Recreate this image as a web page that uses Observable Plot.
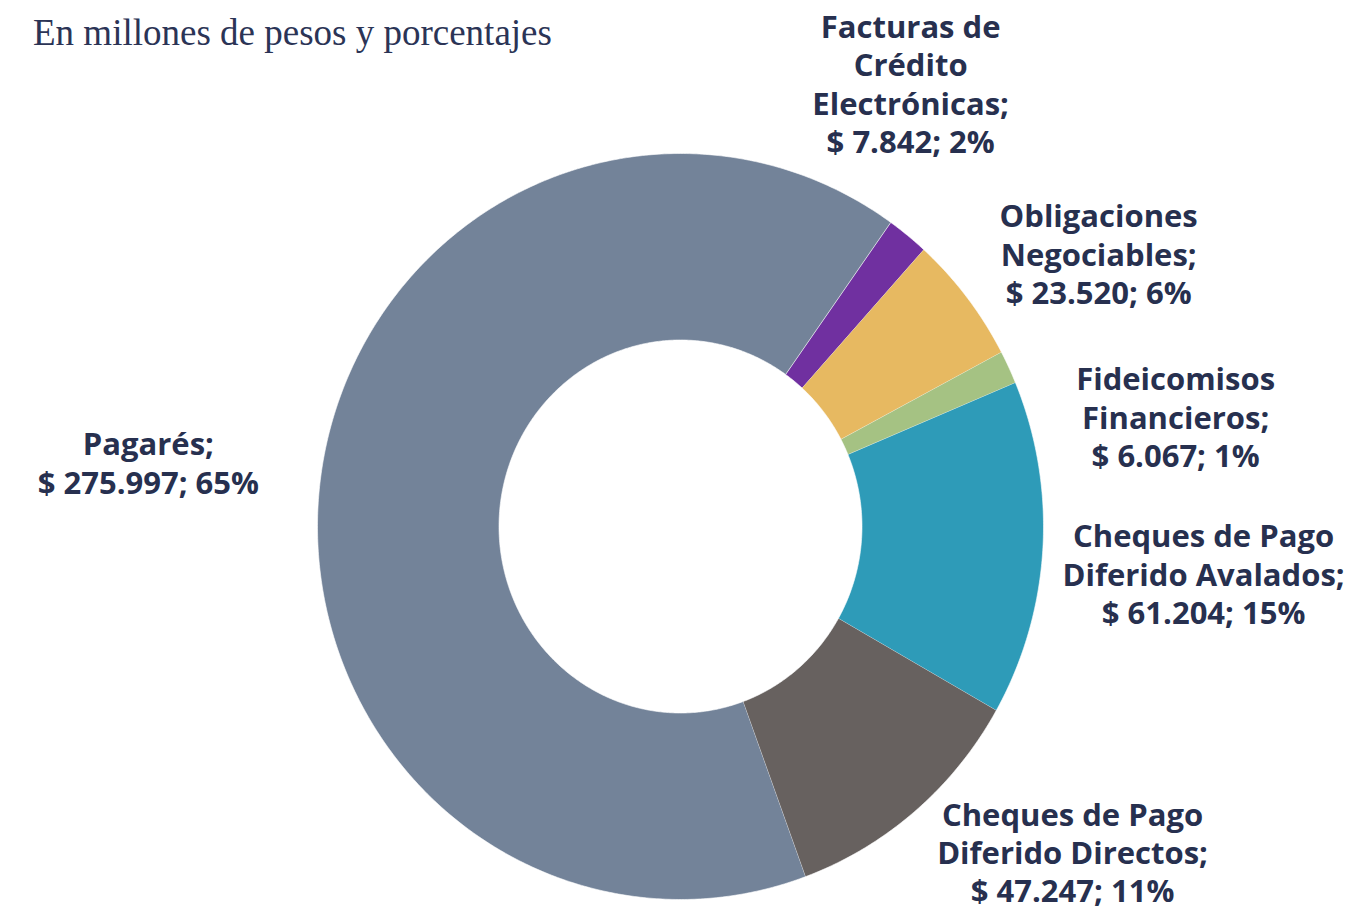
<!DOCTYPE html>
<html>
<head>
<meta charset="utf-8">
<script src="https://cdn.jsdelivr.net/npm/d3@7"></script>
<script src="https://cdn.jsdelivr.net/npm/@observablehq/plot@0.6"></script>
<style>
  html, body { margin: 0; padding: 0; background: #fff; }
  #wrap { position: relative; width: 1356px; height: 913px; }
  #subtitle {
    position: absolute; left: 33px; top: 14px;
    font-family: "Liberation Serif", serif; font-size: 37px; line-height: 37px;
    color: #2b3456; white-space: nowrap;
  }
  #chart { position: absolute; left: 0; top: 0; }
</style>
</head>
<body>
<div id="wrap">
  <div id="chart"></div>
  <div id="subtitle">En millones de pesos y porcentajes</div>
</div>
<script>
// ---- data (clockwise order) ----
const categories = [
  "Facturas de\nCrédito\nElectrónicas",
  "Obligaciones\nNegociables",
  "Fideicomisos\nFinancieros",
  "Cheques de Pago\nDiferido Avalados",
  "Cheques de Pago\nDiferido Directos",
  "Pagarés"
];
const values = [7842, 23520, 6067, 61204, 47247, 275997];
const colors = ["#7030a0", "#e7b961", "#a5c283", "#2e9bb8", "#67615f", "#738399"];

// label anchors (in chart units: outer radius = 1)
const labelX = [0.634, 1.152, 1.364, 1.441, 1.080, -1.466];
const labelY = [1.189, 0.732, 0.295, -0.126, -0.872, 0.172];

// ---- layout constants ----
const startDeg = 35.4;   // first slice starts here (clockwise from 12 o'clock)
const innerR = 0.5;
const outerR = 1;

const total = d3.sum(values);
const locale = d3.formatLocale({decimal: ",", thousands: ".", grouping: [3], currency: ["$", ""]});
const fmt = locale.format(",d");

// build slice polygons
const poly = [];
let acc = 0;
categories.forEach((c, i) => {
  const a0 = startDeg + acc / total * 360;
  acc += values[i];
  const a1 = startDeg + acc / total * 360;
  const n = Math.max(4, Math.ceil((a1 - a0) / 0.5));
  const rad = d => d * Math.PI / 180;
  for (let k = 0; k <= n; k++) {
    const a = rad(a0 + (a1 - a0) * k / n);
    poly.push({cat: c, x: outerR * Math.sin(a), y: outerR * Math.cos(a)});
  }
  for (let k = n; k >= 0; k--) {
    const a = rad(a0 + (a1 - a0) * k / n);
    poly.push({cat: c, x: innerR * Math.sin(a), y: innerR * Math.cos(a)});
  }
});

const labels = categories.map((c, i) => ({
  cat: c,
  x: labelX[i],
  y: labelY[i],
  text: c + ";\n$ " + fmt(values[i]) + "; " + Math.round(values[i] / total * 100) + "%"
}));

const cx = 680, cy = 526, rx = 363, ry = 373;

const chart = Plot.plot({
  width: 1356,
  height: 913,
  margin: 0,
  x: {domain: [-1, 1], range: [cx - rx, cx + rx], axis: null},
  y: {domain: [-1, 1], range: [cy + ry, cy - ry], axis: null},
  color: {domain: categories, range: colors},
  style: {background: "transparent", overflow: "visible"},
  marks: [
    Plot.line(poly, {x: "x", y: "y", z: "cat", fill: "cat", stroke: "white", strokeWidth: 0.6, curve: "linear"}),
    Plot.text(labels, {
      x: "x", y: "y", text: "text",
      fontSize: 31, fontWeight: 700, fontFamily: "Open Sans",
      fill: "#27304f", lineHeight: 1.24, textAnchor: "middle", lineAnchor: "middle"
    })
  ]
});
document.getElementById("chart").appendChild(chart);
</script>
</body>
</html>
